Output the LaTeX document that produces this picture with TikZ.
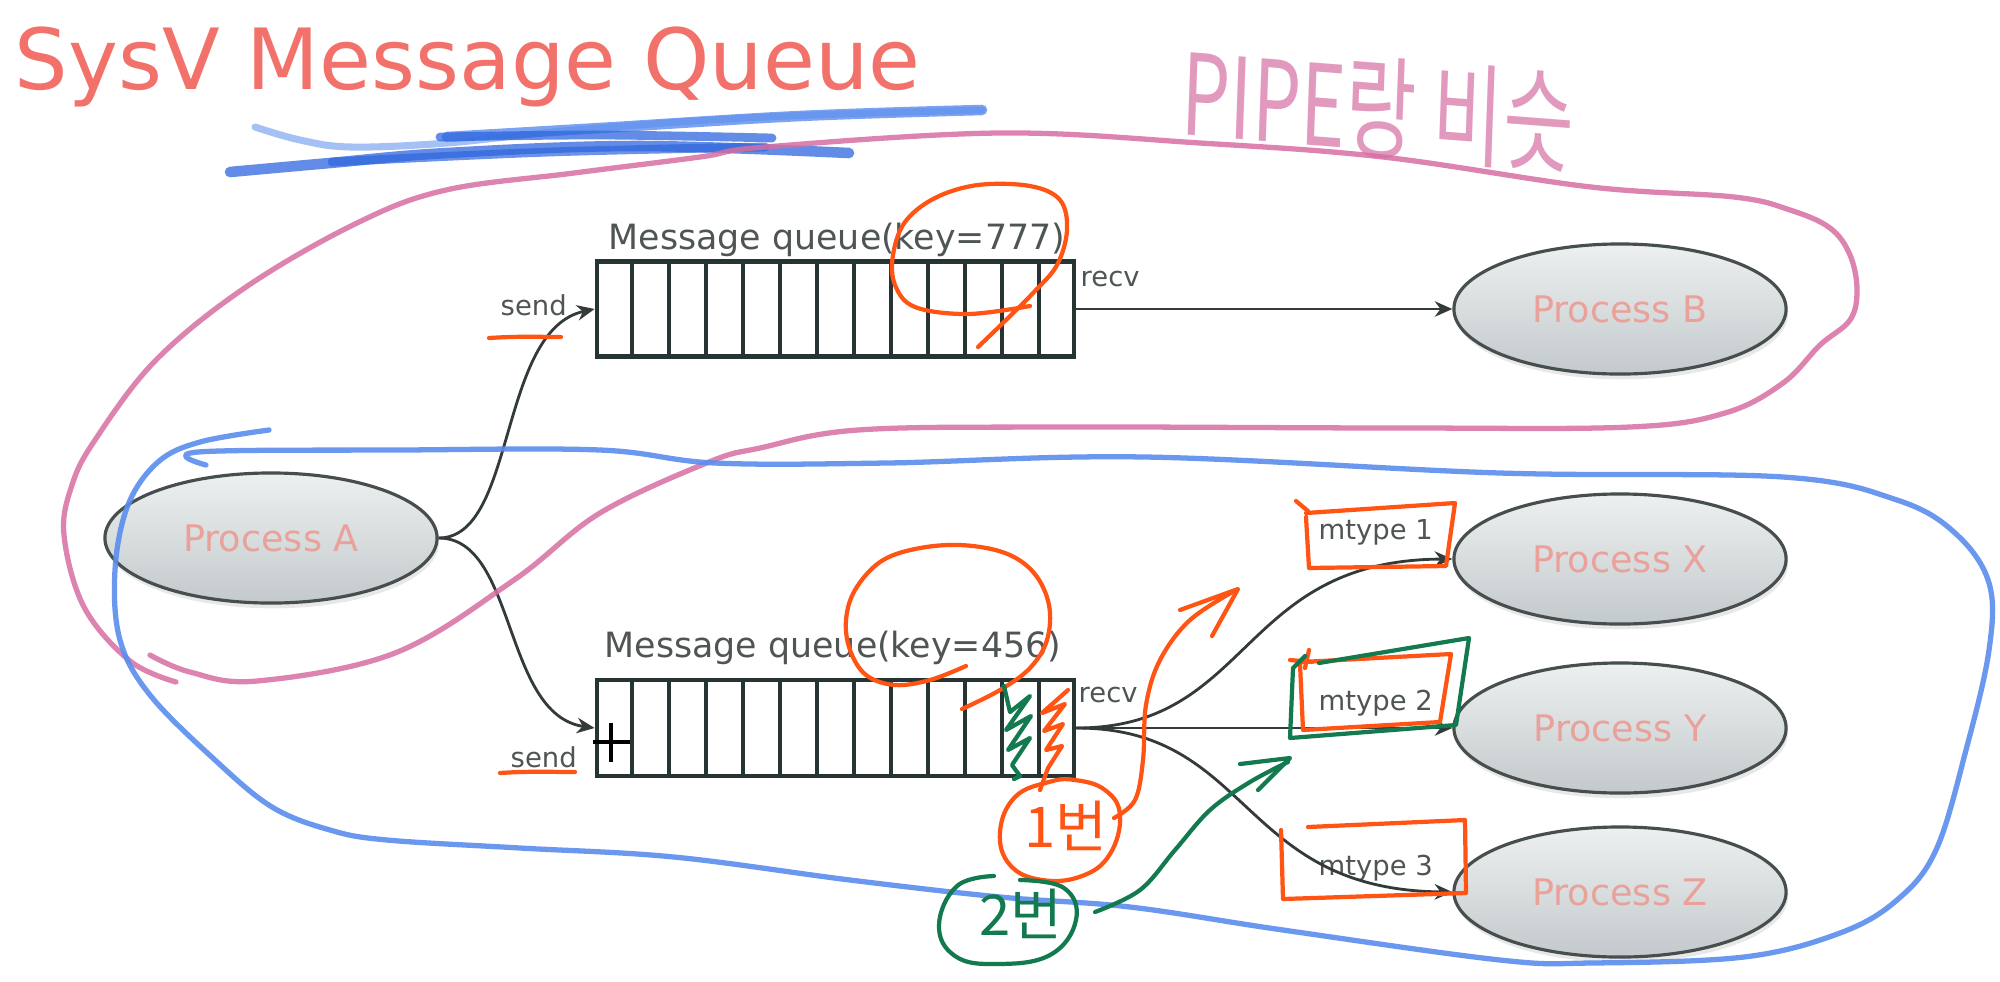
\documentclass[tikz,border=0pt]{standalone}
\usepackage{fontspec}
\setmainfont{DejaVu Sans}
\newfontfamily\krfont{Noto Sans CJK KR}
\usetikzlibrary{shapes.geometric,arrows.meta,calc,shadows}
\definecolor{titlecol}{HTML}{F2716A}
\definecolor{proccol}{HTML}{E9A19A}
\definecolor{labcol}{HTML}{4F5454}
\definecolor{qcol}{HTML}{263434}
\definecolor{conncol}{HTML}{333A3A}
\definecolor{penorange}{HTML}{FF5414}
\definecolor{pengreen}{HTML}{127A4E}
\definecolor{penpink}{HTML}{D66EA3}
\definecolor{penblue}{HTML}{5B8DEE}
\definecolor{penbluedark}{HTML}{2E66DE}
\definecolor{elltop}{HTML}{EDF0F0}
\definecolor{ellbot}{HTML}{C3C9CC}
\begin{document}
\begin{tikzpicture}[x=0.01cm,y=-0.01cm,
  proc/.style={ellipse, draw=conncol!90, line width=0.9pt, top color=elltop, bottom color=ellbot,
    minimum width=3.32cm, minimum height=1.3cm, inner sep=0pt, text=proccol,
    font=\fontsize{10.4}{12}\selectfont,
    drop shadow={opacity=0.18, shadow xshift=0.5pt, shadow yshift=-1.5pt}},
  queue/.style={draw=qcol, line width=1.3pt, minimum width=4.77cm, minimum height=0.95cm, inner sep=0pt},
  qline/.style={draw=qcol, line width=1.2pt},
  qlabel/.style={anchor=base west, inner sep=0pt, text=labcol, font=\fontsize{9.9}{12}\selectfont},
  smlabel/.style={anchor=base west, inner sep=0pt, text=labcol, font=\fontsize{7.8}{9}\selectfont},
  conn/.style={draw=conncol, line width=0.8pt, -{Stealth[length=5pt,width=4.4pt]}},
  orangepen/.style={draw=penorange, line width=1.2pt, line cap=round, line join=round},
  greenpen/.style={draw=pengreen, line width=1.2pt, line cap=round, line join=round},
  pinkpen/.style={draw=penpink, line width=1.5pt, line cap=round, line join=round, opacity=0.85},
  bluepen/.style={draw=penblue, line width=1.5pt, line cap=round, line join=round, opacity=0.9},
]
\useasboundingbox[fill=white] (0,0) rectangle (2000,981);

% title
\node[anchor=base west, inner sep=0pt, text=titlecol, font=\fontsize{24}{28}\selectfont] (title) at (14,89) {SysV Message Queue};

% blue scribble under title
\draw[bluepen, line width=2pt, opacity=0.55] plot[smooth, tension=0.6] coordinates {(255,127) (300,140) (351,147) (447,143) (574,130) (765,117) (982,110)};
\draw[bluepen, line width=3pt, opacity=0.8] plot[smooth, tension=0.6] coordinates {(447,137) (600,128) (800,116) (982,110)};
\draw[bluepen, draw=penbluedark, line width=3pt, opacity=0.75] plot[smooth, tension=0.6] coordinates {(230,172) (330,163) (447,153) (638,146) (849,153)};
\draw[bluepen, draw=penbluedark, line width=2.5pt, opacity=0.75] plot[smooth, tension=0.6] coordinates {(440,137) (600,135) (772,138)};
\draw[bluepen, draw=penbluedark, line width=2.5pt, opacity=0.7] plot[smooth, tension=0.6] coordinates {(332,162) (550,152) (765,147)};

% handwritten note
\node[inner sep=0pt, text=penpink, opacity=0.7, font=\krfont\fontsize{32}{36}\selectfont, xscale=0.68, rotate=-3] (note) at (1378,108) {PIPE랑 비슷};

% processes
\node[proc] (pA) at (271,538) {Process A};
\node[proc] (pB) at (1620,309) {Process B};
\node[proc] (pX) at (1620,559) {Process X};
\node[proc] (pY) at (1620,728) {Process Y};
\node[proc] (pZ) at (1620,892) {Process Z};

% queues
\node[queue] (q1) at (835.5,309) {};
\node[queue, minimum height=0.96cm] (q2) at (835.5,728) {};
\foreach \i in {1,...,12} {
  \draw[qline] ($(q1.north west)!\i/13!(q1.north east)$) -- ($(q1.south west)!\i/13!(q1.south east)$);
  \draw[qline] ($(q2.north west)!\i/13!(q2.north east)$) -- ($(q2.south west)!\i/13!(q2.south east)$);
}
\node[qlabel] (ql1) at (608,249) {Message queue(key=777)};
\node[qlabel] (ql2) at (604,657) {Message queue(key=456)};

% labels
\node[smlabel] (send1) at (500,315) {send};
\node[smlabel] (recv1) at (1080,286) {recv};
\node[smlabel] (send2) at (510,767) {send};
\node[smlabel] (recv2) at (1078,702) {recv};
\node[smlabel] (mt1) at (1318,539) {mtype 1};
\node[smlabel] (mt2) at (1318,710) {mtype 2};
\node[smlabel] (mt3) at (1318,875) {mtype 3};

% connectors
\draw[conn] (pA.east) .. controls +(78,0) and +(-97,21) .. (q1.west);
\draw[conn] (pA.east) .. controls +(78,0) and +(-92,-13) .. (q2.west);
\draw[conn] (q1.east) -- (pB.west);
\draw[conn] (q2.east) .. controls +(176,0) and +(-214,1) .. (pX.west);
\draw[conn] (q2.east) -- (pY.west);
\draw[conn] (q2.east) .. controls +(176,0) and +(-214,-2) .. (pZ.west);

% black cross
\draw[black, line width=1pt] (593,742) -- (630,742) (611,723) -- (611,762);

% pink loop
\draw[pinkpen] plot[smooth, tension=0.6] coordinates {(176,682) (130,661) (84,607) (64,535) (72,485) (95,440) (156,360) (246,287) (357,223) (446,190) (574,173) (700,157) (765,147) (1000,133) (1200,143) (1383,157) (1591,187) (1734,197) (1790,210) (1830,228) (1850,255) (1857,290) (1850,320) (1820,345) (1783,383) (1725,413) (1630,427) (1400,428) (1059,427) (858,430) (760,448) (709,462) (600,513) (514,580) (395,653) (257,681) (190,672) (150,655)};

% blue loop
\draw[bluepen] plot[smooth, tension=0.6] coordinates {(269,430) (200,442) (158,462) (128,505) (115,570) (120,640) (150,695) (215,760) (272,807) (330,830) (387,840) (520,848) (674,857) (850,880) (1000,897) (1130,907) (1283,930) (1500,960) (1591,963) (1744,957) (1840,933) (1897,900) (1936,850) (1966,750) (1989,650) (1989,583) (1955,533) (1897,500) (1783,477) (1500,473) (1145,457) (887,463) (715,463) (600,450) (400,450) (198,452) (206,465)};

% orange marks, top queue
\draw[orangepen] plot[smooth, tension=0.6] coordinates {(1030,306) (968,314) (915,307) (895,285) (893,255) (905,222) (935,198) (978,185) (1030,186) (1060,200) (1067,230) (1057,265) (1034,292) (1006,320) (978,347)};
\draw[orangepen] (489,338) .. controls (520,336) and (540,337) .. (561,337);

% orange marks, bottom queue
\draw[orangepen] plot[smooth, tension=0.6] coordinates {(966,666) (930,680) (895,685) (866,675) (850,650) (846,620) (855,590) (880,562) (915,549) (960,545) (1005,553) (1034,573) (1049,605) (1047,640) (1030,668) (1000,690) (962,709)};
\draw[orangepen] (500,773) .. controls (530,771) and (550,772) .. (575,772);
\draw[orangepen] (1068,690) -- (1042,713) -- (1065,704) -- (1044,731) -- (1063,724) -- (1046,750) -- (1062,746) -- (1048,768) -- (1040,790);
\draw[greenpen] (1004,686) -- (1010,712) -- (1030,696) -- (1006,730) -- (1031,716) -- (1008,750) -- (1030,738) -- (1012,765) -- (1020,776) -- (1014,779);

% orange boxes around mtype labels
\draw[orangepen] (1296,501) -- (1308,511);
\draw[orangepen] (1306,513) -- (1455,503) -- (1446,566) -- (1309,568) -- (1306,517);
\draw[orangepen] (1290,660) -- (1312,662) (1305,668) -- (1309,650);
\draw[orangepen] (1302,662) -- (1451,654) -- (1440,722) -- (1303,730) -- (1300,664);
\draw[greenpen] (1319,663) -- (1469,638) -- (1456,725) -- (1290,738) -- (1293,668) -- (1305,656);
\draw[orangepen] (1308,827) -- (1465,820) -- (1466,893) -- (1283,899) -- (1281,830);

% "1번" annotation
\draw[orangepen] plot[smooth cycle, tension=0.7] coordinates {(1049,782) (1015,797) (1000,832) (1010,865) (1042,880) (1082,876) (1110,854) (1120,815) (1105,790) (1075,780)};
\node[inner sep=0pt, text=penorange, font=\krfont\fontsize{16}{20}\selectfont] (one) at (1066,826) {1번};
\draw[orangepen] plot[smooth, tension=0.6] coordinates {(1114,818) (1135,800) (1143,760) (1146,705) (1160,660) (1190,620) (1236,590)};
\draw[orangepen] (1180,610) -- (1238,589) -- (1212,636);

% "2번" annotation
\draw[greenpen] plot[smooth, tension=0.7] coordinates {(994,876) (957,886) (939,925) (955,956) (996,964) (1050,955) (1076,920) (1064,888) (1020,880)};
\node[inner sep=0pt, text=pengreen, font=\krfont\fontsize{16}{20}\selectfont] (two) at (1021,914) {2번};
\draw[greenpen] plot[smooth, tension=0.6] coordinates {(1095,912) (1140,890) (1175,850) (1210,810) (1250,782) (1288,762)};
\draw[greenpen] (1240,764) -- (1290,758) -- (1258,790);
\end{tikzpicture}
\end{document}
